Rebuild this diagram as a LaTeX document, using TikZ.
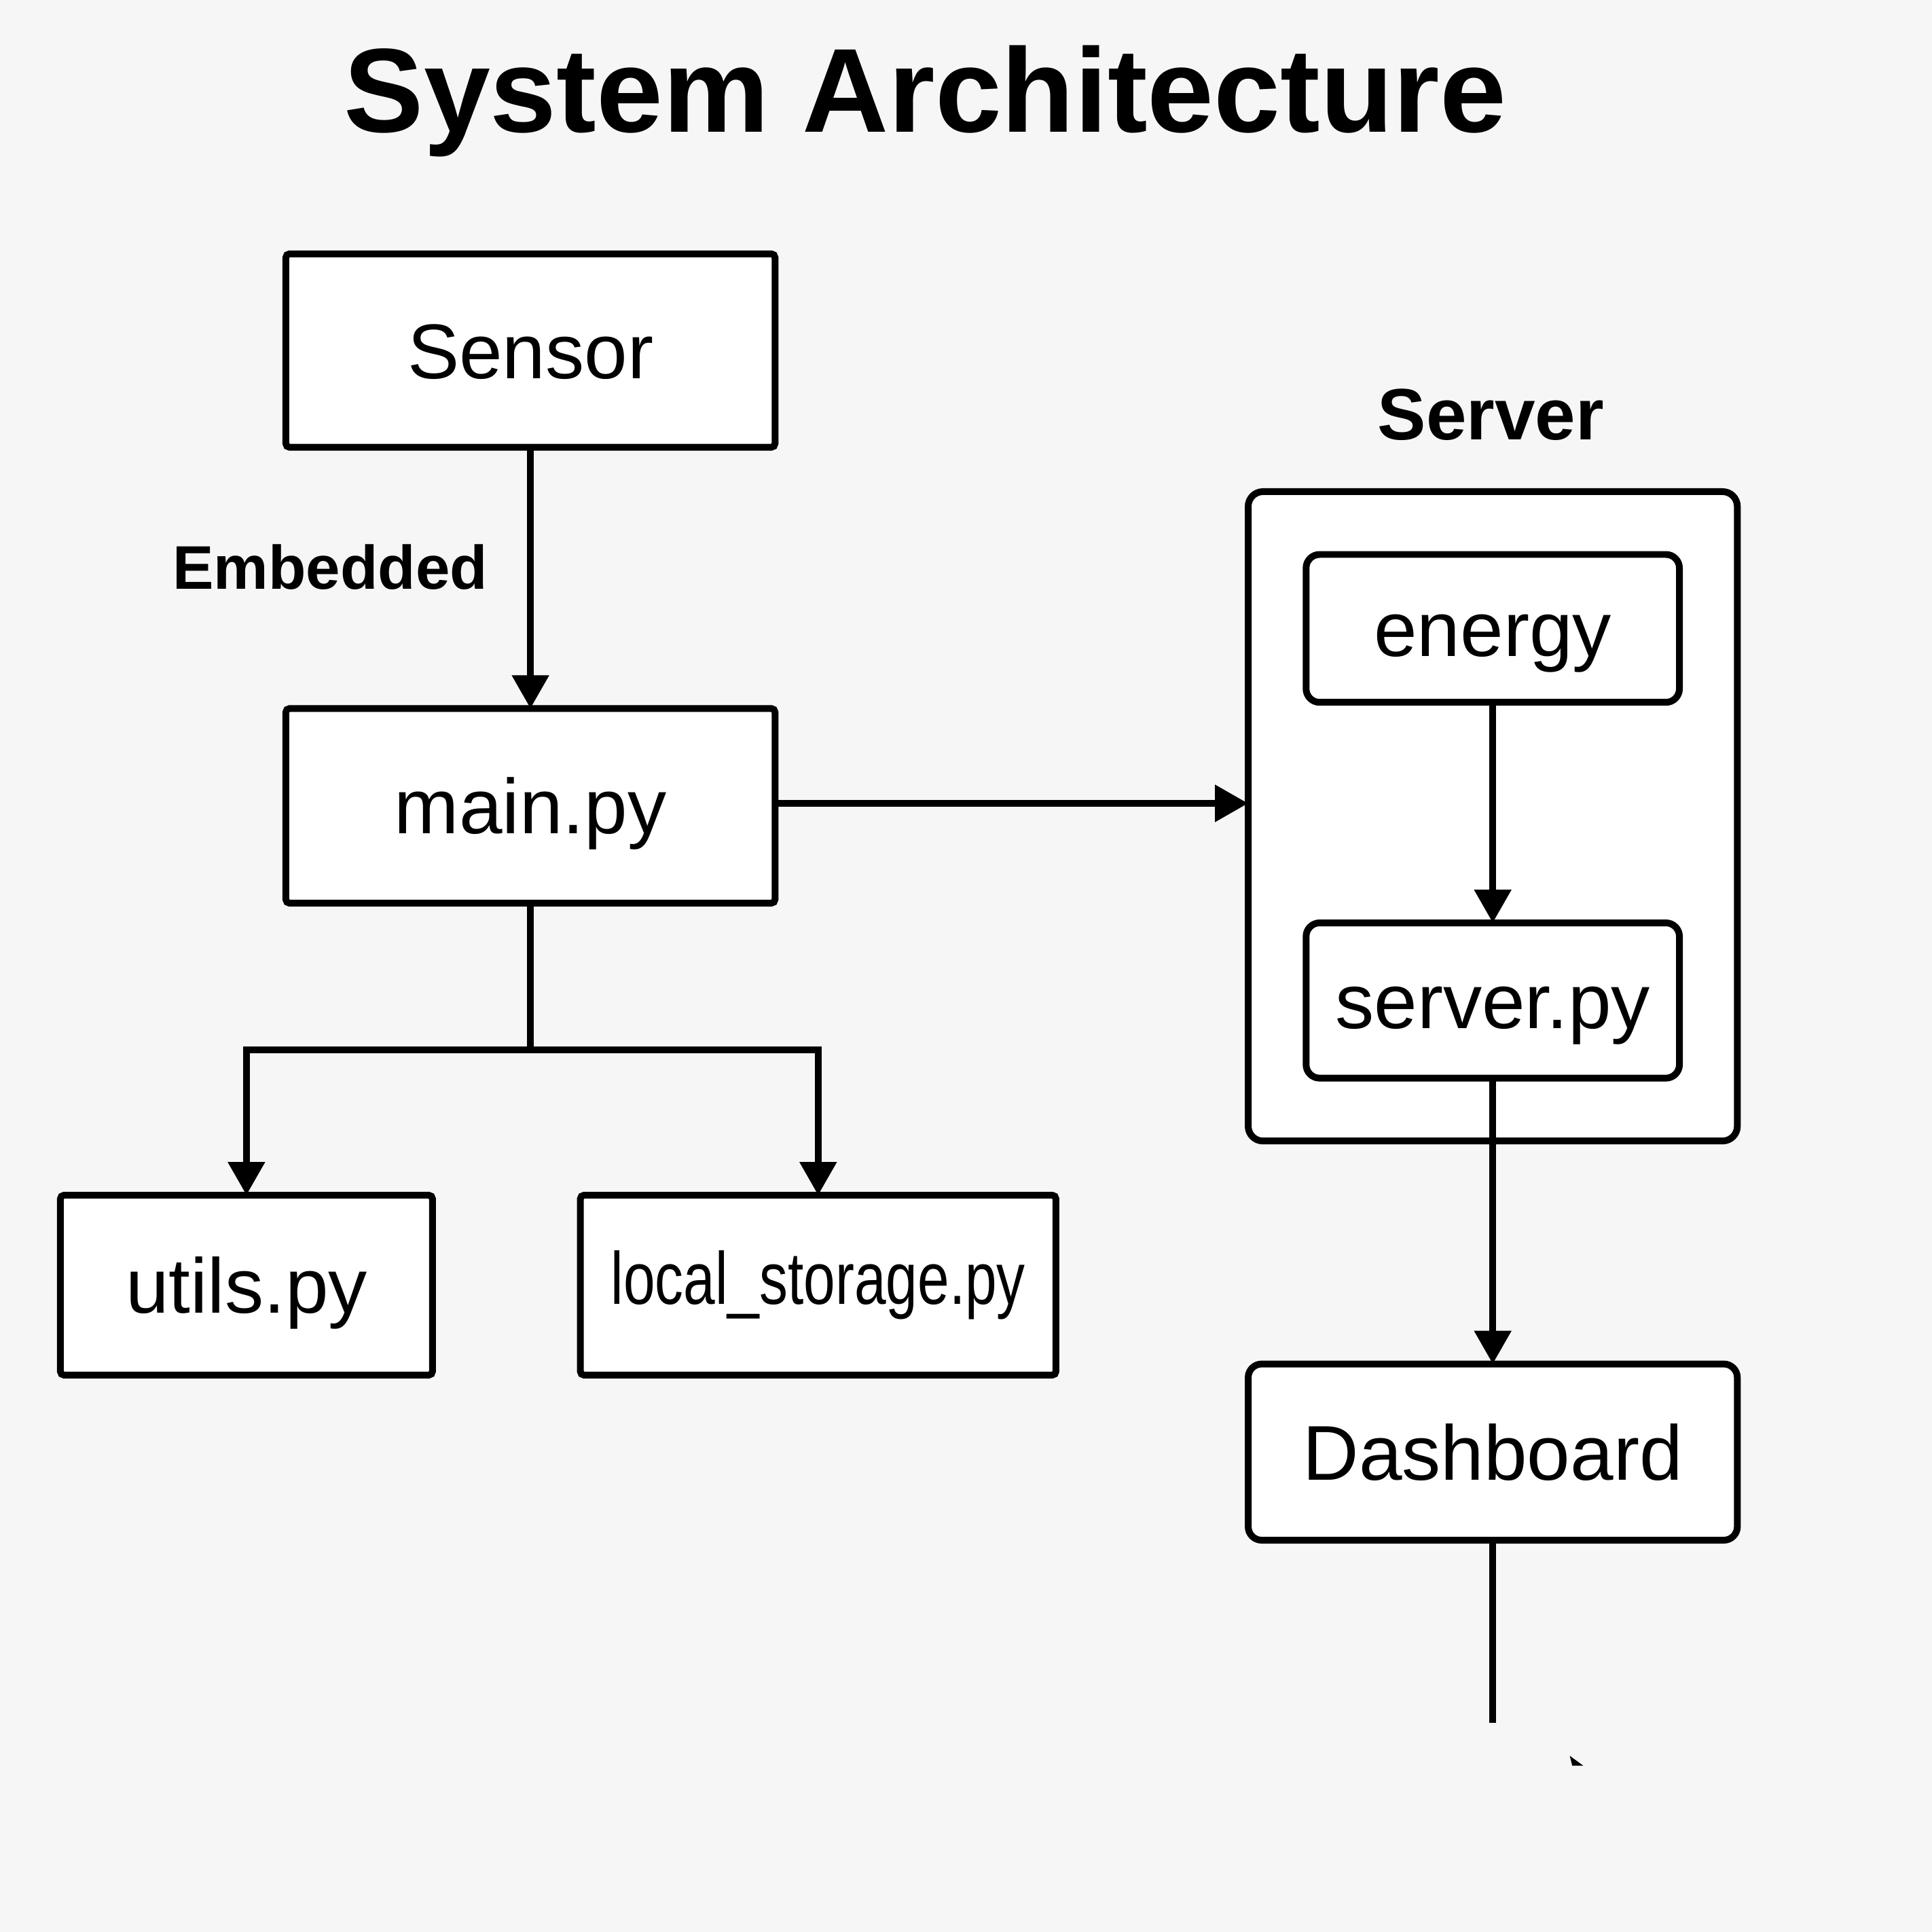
\documentclass[tikz,border=0pt]{standalone}
\usepackage{fontspec}
\setmainfont{Liberation Sans}
\usetikzlibrary{arrows.meta,calc}
\definecolor{bg}{RGB}{246,246,246}
\begin{document}
\begin{tikzpicture}[x=1pt,y=-1pt,
  lw/.style={line width=5.5pt},
  sqbox/.style={draw, lw, fill=white, rounded corners=3pt, inner sep=0pt, outer sep=0pt,
     text height=45pt, text depth=0pt, font=\fontsize{63}{70}\selectfont},
  rndbox/.style={sqbox, rounded corners=11pt},
  lbl/.style={font=\bfseries\fontsize{#1}{#1}\selectfont, inner sep=0pt, anchor=base},
  arr/.style={lw, -{Triangle[length=27pt,width=29pt]}},
  ln/.style={lw}
]
\fill[bg] (0,0) rectangle (1568,1568);
\useasboundingbox (0,0) rectangle (1568,1568);

% title
\node[lbl=97] (title) at (751,107) {System Architecture};

% left column
\node[sqbox, minimum width=397pt, minimum height=157pt] (sensor) at (430.5,284.5) {Sensor};
\node[sqbox, minimum width=397pt, minimum height=158pt] (main) at (430.5,654) {main.py};
\node[sqbox, minimum width=302pt, minimum height=146pt] (utils) at (200,1043) {utils.py};
\node[sqbox, minimum width=386pt, minimum height=146pt, text height=31pt] (local) at (664,1043)
   {\fontsize{60}{66}\selectfont\scalebox{0.77}[1]{local\_storage.py}};
\node[lbl=50] (emb) at (268,478) {Embedded};

\draw[arr] (sensor.south) -- (main.north);
\coordinate (j) at (430.5,852);
\draw[ln] (main.south) -- (j);
\draw[arr] (j) -| (utils.north);
\draw[arr] (j) -| (local.north);

% server
\node[lbl=59] (srvlbl) at (1210,357) {Server};
\node[draw, lw, fill=white, rounded corners=12pt, minimum width=397pt, minimum height=527pt,
      inner sep=0pt, outer sep=0pt] (server) at (1211.5,662.5) {};
\node[rndbox, minimum width=303pt, minimum height=120pt] (energy) at (1211.5,510) {energy};
\node[rndbox, minimum width=303pt, minimum height=126pt] (srvpy) at (1211.5,812) {server.py};
\node[rndbox, minimum width=397pt, minimum height=143pt] (dash) at (1211.5,1178.5) {Dashboard};

\draw[arr] (main.east |- 0,652) -- (server.west |- 0,652);
\draw[arr] (energy.south) -- (srvpy.north);
\draw[arr] (srvpy.south) -- (dash.north);
\coordinate (end) at (1211.5,1398);
\draw[ln] (dash.south) -- (end);

% small stray mark
\fill (1274,1425) -- (1285,1433) -- (1276,1433) -- cycle;
\end{tikzpicture}
\end{document}
